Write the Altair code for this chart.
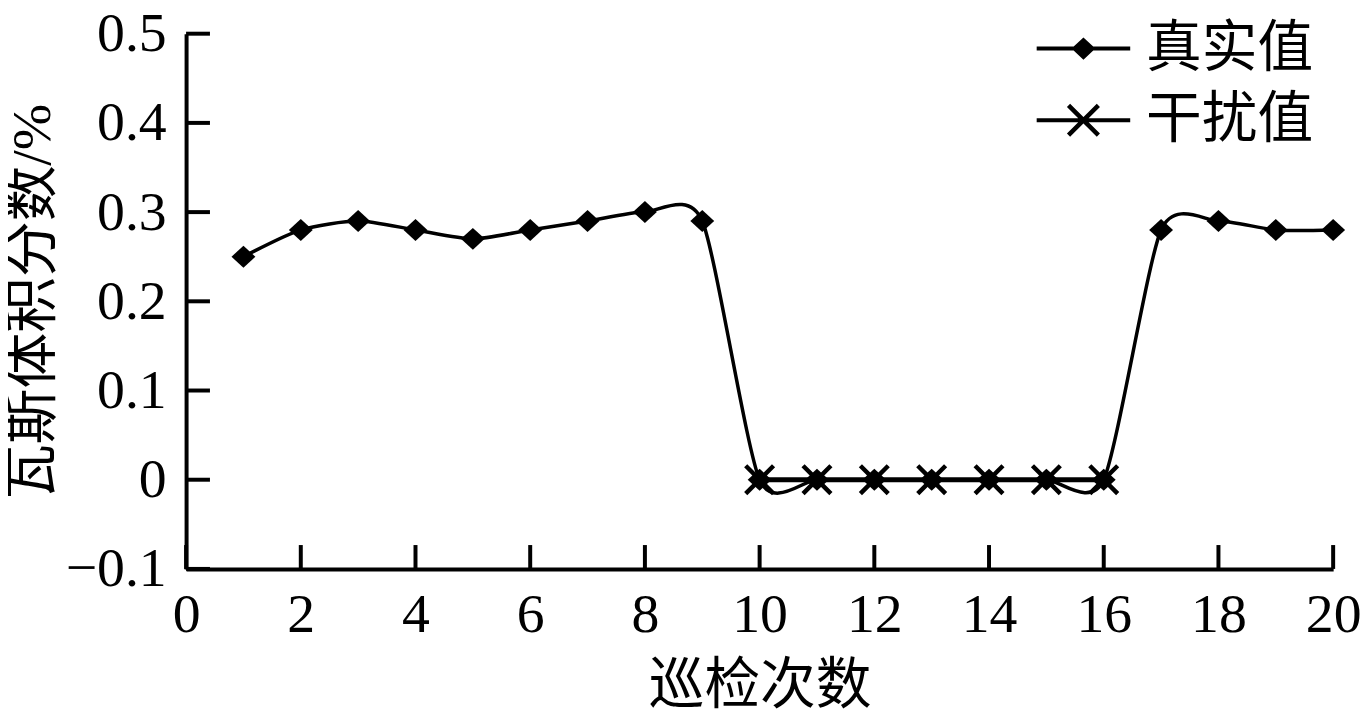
import altair as alt
import pandas as pd

# ---- data ----
x_true = list(range(1, 21))
y_true = [0.25, 0.28, 0.29, 0.28, 0.27, 0.28, 0.29, 0.30, 0.29, 0.0,
          0.0, 0.0, 0.0, 0.0, 0.0, 0.0, 0.28, 0.29, 0.28, 0.28]
x_int = [10, 11, 12, 13, 14, 15, 16]
y_int = [0.0, 0.0, 0.0, 0.0, 0.0, 0.0, 0.0]
x_ticks = [0, 2, 4, 6, 8, 10, 12, 14, 16, 18, 20]
y_ticks = [-0.1, 0.0, 0.1, 0.2, 0.3, 0.4, 0.5]
series = ["真实值", "干扰值"]

FONT = "Liberation Serif, Noto Sans CJK SC"
W, H = 1153, 538

df_true = pd.DataFrame({"x": x_true, "y": y_true, "s": series[0]})
df_int = pd.DataFrame({"x": x_int, "y": y_int, "s": series[1]})
df_all = pd.concat([df_true, df_int], ignore_index=True)
df_xt = pd.DataFrame({"x": x_ticks})
df_yt = pd.DataFrame({"y": y_ticks})

xs = alt.Scale(domain=[0, 20], nice=False, zero=False)
ys = alt.Scale(domain=[-0.1, 0.5], nice=False, zero=False)
x_axis = alt.Axis(values=x_ticks, format="d", title="巡检次数", grid=False,
                  ticks=False, tickSize=0, labelPadding=19, titlePadding=16,
                  labelFont=FONT, labelFontSize=56, titleFont=FONT,
                  titleFontSize=56, titleFontWeight="normal",
                  labelColor="black", titleColor="black",
                  domainColor="black", domainWidth=4, labelFlush=False)
y_axis = alt.Axis(values=y_ticks, format=".1~f", title="瓦斯体积分数/%",
                  grid=False, ticks=False, tickSize=0, labelPadding=20,
                  titlePadding=4, labelFont=FONT, labelFontSize=56,
                  titleFont=FONT, titleFontSize=56, titleFontWeight="normal",
                  labelColor="black", titleColor="black",
                  domainColor="black", domainWidth=4, labelFlush=False)

X = alt.X("x:Q", scale=xs, axis=x_axis)
Y = alt.Y("y:Q", scale=ys, axis=y_axis)

diamond = "M0,-0.92L1,0L0,0.92L-1,0Z"
d = 0.113
crossp = (f"M{-1+d},{-1-d}L{1+d},{1-d}L{1-d},{1+d}L{-1-d},{-1+d}Z"
          f"M{1-d},{-1-d}L{1+d},{-1+d}L{-1+d},{1+d}L{-1-d},{1-d}Z")

# legend symbols: line + marker (unit = 30px)
leg_diamond = ("M-1.567,-0.067H1.567V0.067H-1.567Z"
               "M0,-0.37L0.4,0L0,0.37L-0.4,0Z")
a, t = 0.5, 0.053
leg_cross = ("M-1.567,-0.067H1.567V0.067H-1.567Z"
             f"M{-a+t},{-a-t}L{a+t},{a-t}L{a-t},{a+t}L{-a-t},{-a+t}Z"
             f"M{a-t},{-a-t}L{a+t},{-a+t}L{-a+t},{a+t}L{-a-t},{a-t}Z")

line_true = alt.Chart(df_true).mark_line(
    interpolate="cardinal", tension=0.3, color="black", strokeWidth=3.5).encode(x=X, y=Y)
line_int = alt.Chart(df_int).mark_line(
    color="black", strokeWidth=5).encode(x=X, y=Y)
pts_true = alt.Chart(df_true).mark_point(
    shape=diamond, filled=True, color="black", size=576, opacity=1).encode(x=X, y=Y)
pts_int = alt.Chart(df_int).mark_point(
    shape=crossp, filled=True, color="black", size=784, opacity=1).encode(x=X, y=Y)

legend_layer = alt.Chart(df_all).transform_filter("datum.x < -100").mark_point(
    filled=True, color="black", opacity=1).encode(
    x=X, y=Y,
    shape=alt.Shape("s:N", scale=alt.Scale(domain=series, range=[leg_diamond, leg_cross]),
                    legend=alt.Legend(title=None, orient="none", legendX=872, legendY=-15,
                                      symbolSize=3600, symbolFillColor="black",
                                      symbolStrokeWidth=0, symbolOpacity=1,
                                      labelFont=FONT, labelFontSize=56,
                                      labelColor="black", labelOffset=33,
                                      rowPadding=14, padding=0, labelLimit=400)))

xt_layer = alt.Chart(df_xt).mark_rule(color="black", strokeWidth=4).encode(
    x=X, y=alt.value(H), y2=alt.value(H - 24))
yt_layer = alt.Chart(df_yt).mark_rule(color="black", strokeWidth=4).encode(
    y=Y, x=alt.value(0), x2=alt.value(24))

chart = alt.layer(line_true, line_int, pts_true, pts_int, xt_layer, yt_layer,
                  legend_layer).resolve_scale(shape="independent").properties(
    width=W, height=H,
    background="white",
    autosize=alt.AutoSizeParams(type="none"),
    padding={"left": 179, "top": 24, "right": 30, "bottom": 145},
).configure_view(strokeWidth=0, stroke="transparent")

chart.save("out.html", embed_options={"renderer": "svg", "actions": False})
